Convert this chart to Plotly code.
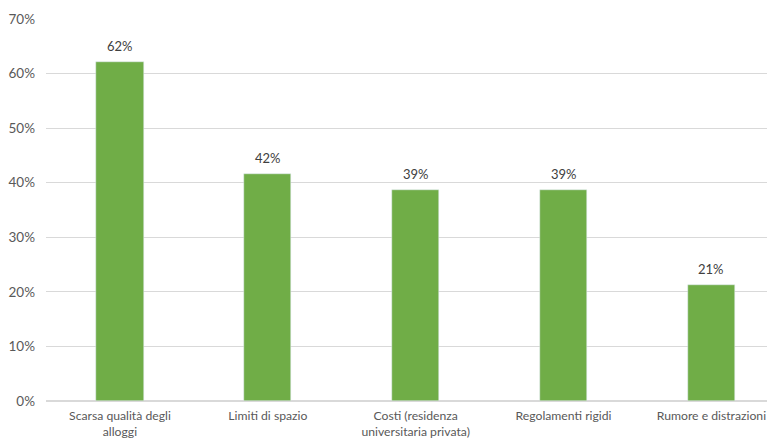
import plotly.graph_objects as go

categories = ["Scarsa qualità degli<br>alloggi", "Limiti di spazio",
              "Costi (residenza<br>universitaria privata)", "Regolamenti rigidi",
              "Rumore e distrazioni"]
values = [0.621, 0.416, 0.386, 0.386, 0.212]
labels = ["62%", "42%", "39%", "39%", "21%"]
yticks = [0, 0.1, 0.2, 0.3, 0.4, 0.5, 0.6, 0.7]
yticklabels = ["0%", "10%", "20%", "30%", "40%", "50%", "60%", "70%"]

xs = list(range(len(categories)))
fig = go.Figure(go.Bar(
    x=xs, y=values, marker_color="#70ad47", width=0.32,
))
for x, v, t in zip(xs, values, labels):
    fig.add_annotation(x=x, y=v, text=t, showarrow=False, yanchor="bottom",
                       yshift=6, font=dict(color="#404040", size=13))
fig.update_layout(
    width=767, height=435,
    margin=dict(l=38, r=0, t=11, b=42),
    paper_bgcolor="white", plot_bgcolor="white",
    font=dict(family="Lato", color="#595959", size=13),
    showlegend=False,
    bargap=0,
)
fig.update_xaxes(range=[-0.5, 4.43], tickvals=xs,
                 ticktext=categories, showgrid=False, showline=False,
                 zeroline=False, ticks="", automargin=False, ticklabelstandoff=6,
                 tickfont=dict(size=12.2, color="#595959"))
fig.update_yaxes(range=[0, 0.7], tickvals=yticks, ticktext=yticklabels,
                 showgrid=True, gridcolor="#d9d9d9", gridwidth=1,
                 zeroline=True, zerolinecolor="#d9d9d9", showline=False,
                 ticks="", automargin=False,
                 tickfont=dict(size=13.5, color="#595959"), ticklabelstandoff=10)
fig.write_html("out.html")
